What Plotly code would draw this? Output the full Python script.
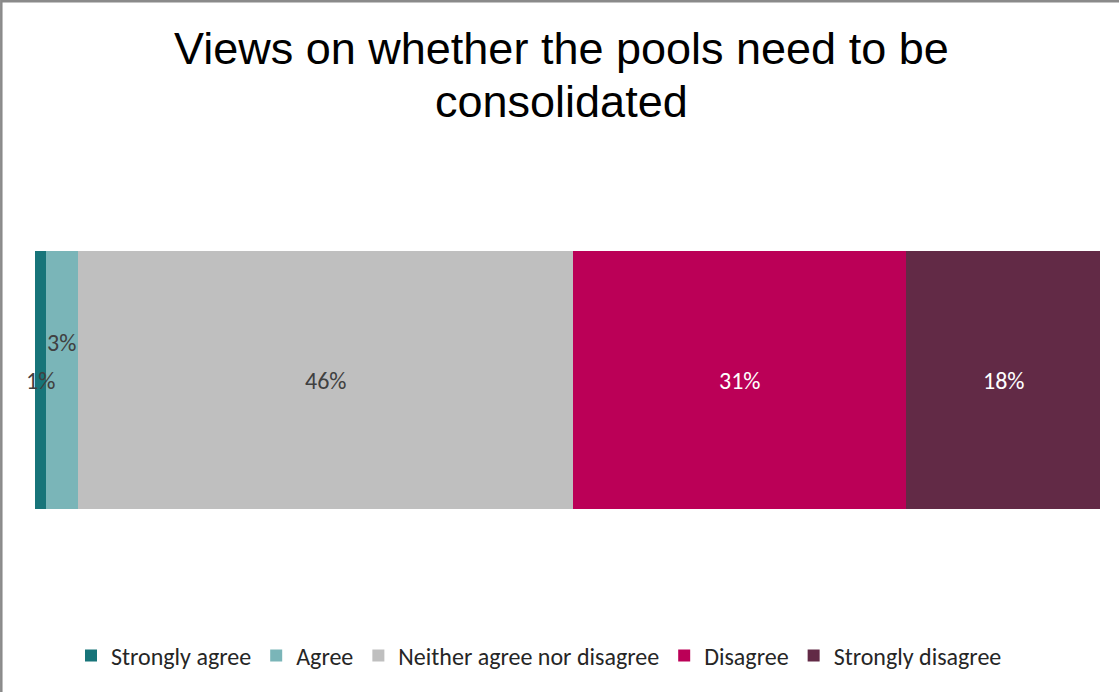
import plotly.graph_objects as go

# Survey responses: share of respondents per answer (percent)
categories = ["Strongly agree", "Agree", "Neither agree nor disagree", "Disagree", "Strongly disagree"]
values = [1, 3, 46, 31, 18]
colors = ["#177479", "#7ab5b8", "#bfbfbf", "#bb0057", "#622a46"]
label_colors = ["#404040", "#404040", "#404040", "#ffffff", "#ffffff"]
label_yshift = [0, 38, 0, 0, 0]

title_lines = ["Views on whether the pools need to be", "consolidated"]

W, H = 1119, 692
M_L, M_R, M_T, M_B = 35, 19, 251, 183

fig = go.Figure()
for cat, val, col in zip(categories, values, colors):
    fig.add_trace(go.Bar(
        x=[val], y=[0], name=cat, orientation="h",
        marker=dict(color=col, line=dict(width=0)),
        width=1, hoverinfo="name+x",
    ))

annotations = []
cum = 0
for val, lc, ys in zip(values, label_colors, label_yshift):
    annotations.append(dict(
        x=cum + val / 2, y=0, xref="x", yref="y",
        text=f"{val}%", showarrow=False, yshift=ys,
        font=dict(family="Calibri, Carlito, Lato, sans-serif", size=24, color=lc),
    ))
    cum += val

plot_w = W - M_L - M_R
plot_h = H - M_T - M_B


def px_x(px):
    return (px - M_L) / plot_w


def px_y(py):
    return (H - M_B - py) / plot_h


title_y = [49, 101]
for line, ty in zip(title_lines, title_y):
    annotations.append(dict(
        x=px_x(561), y=px_y(ty), xref="paper", yref="paper",
        xanchor="center", yanchor="middle", text=line, showarrow=False,
        font=dict(family="Arial, Liberation Sans, sans-serif", size=45, color="#000000"),
    ))

fig.update_layout(
    width=W, height=H,
    margin=dict(l=M_L, r=M_R, t=M_T, b=M_B, pad=0),
    barmode="stack",
    paper_bgcolor="#ffffff", plot_bgcolor="#ffffff",
    xaxis=dict(range=[0, sum(values)], visible=False, showgrid=False, zeroline=False, fixedrange=True),
    yaxis=dict(range=[-0.5, 0.5], visible=False, showgrid=False, zeroline=False, fixedrange=True),
    showlegend=True,
    legend=dict(
        orientation="h", traceorder="normal",
        x=px_x(539), y=px_y(656), xanchor="center", yanchor="middle",
        font=dict(family="Calibri, Carlito, Lato, sans-serif", size=24, color="#262626"),
        bgcolor="rgba(0,0,0,0)",
    ),
    annotations=annotations,
    shapes=[dict(
        type="rect", xref="paper", yref="paper",
        x0=px_x(1.3), x1=px_x(W + 20), y0=px_y(H + 20), y1=px_y(1.3),
        line=dict(color="#8a8a8a", width=2.5), fillcolor="rgba(0,0,0,0)", layer="above",
    )],
)

fig.write_html("out.html")
